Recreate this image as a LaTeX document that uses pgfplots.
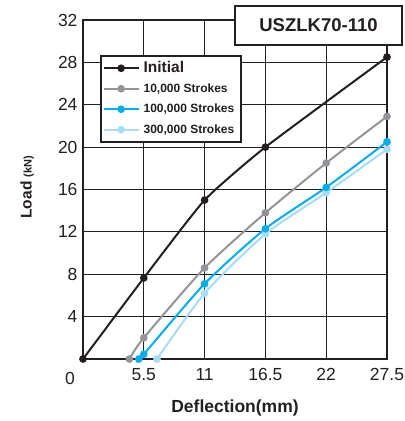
\documentclass[border=0pt]{standalone}
\usepackage{pgfplots}
\pgfplotsset{compat=1.18}
\usepackage{fontspec}
\setmainfont{Liberation Sans}
\definecolor{cblack}{HTML}{231F20}
\definecolor{cgray}{HTML}{929497}
\definecolor{cblue}{HTML}{00AEEF}
\definecolor{clight}{HTML}{A8DCF6}
\begin{document}
\begin{tikzpicture}[x=1bp,y=1bp]
\path[use as bounding box] (-83,-62) rectangle (322,359);
\begin{axis}[
  at={(0,0)}, anchor=south west,
  width=304bp, height=339bp, scale only axis,
  xmin=0, xmax=27.5, ymin=0, ymax=32,
  xtick={5.5,11,16.5,22,27.5},
  ytick={4,8,12,16,20,24,28,32},
  /pgf/number format/assume math mode=true,
  ticklabel style={font=\fontsize{17.5bp}{20bp}\selectfont, text=cblack},
  xticklabel style={yshift=-6bp},
  yticklabel style={xshift=-2bp},
  grid=major,
  grid style={cblack, line width=1.2bp},
  axis line style={cblack, line width=2.8bp},
  tick style={draw=none},
  clip=false,
  xlabel={\textbf{Deflection(mm)}},
  xlabel style={font=\fontsize{17.5bp}{20bp}\selectfont, text=cblack, at={(axis description cs:0.5,-0.1445)}, anchor=center},
  ylabel={\textbf{Load} {\fontsize{11bp}{12bp}\selectfont\textbf{(kN)}}},
  ylabel style={font=\fontsize{15.5bp}{18bp}\selectfont, text=cblack, at={(axis description cs:-0.184,0.507)}, anchor=center},
  legend reversed,
  legend cell align=left,
  legend style={at={(rel axis cs:0.056,0.897)}, anchor=north west, draw=cblack, line width=2.2bp, fill=white,
     font=\fontsize{12bp}{13bp}\selectfont\bfseries, text=cblack, row sep=4bp, inner xsep=2bp, inner ysep=4bp,
     nodes={text height=10bp, text depth=2.5bp, inner xsep=4.5bp}},
  legend image code/.code={\draw[mark repeat=2,mark phase=2,#1] plot coordinates {(0bp,0bp) (17bp,0bp) (34bp,0bp)};},
]
\addplot[clight, line width=2bp, smooth, tension=0.4, mark=*, mark size=2.8bp, mark options={fill=clight, draw=clight}]
  coordinates {(6.7,0) (11,6.2) (16.5,11.8) (22,15.7) (27.5,19.8)};
\addlegendentry{300,000 Strokes}
\addplot[cblue, line width=2bp, smooth, tension=0.4, mark=*, mark size=2.8bp, mark options={fill=cblue, draw=cblue}]
  coordinates {(5.05,0) (5.5,0.45) (11,7.1) (16.5,12.3) (22,16.2) (27.5,20.5)};
\addlegendentry{100,000 Strokes}
\addplot[cgray, line width=2bp, smooth, tension=0.4, mark=*, mark size=2.8bp, mark options={fill=cgray, draw=cgray}]
  coordinates {(4.2,0) (5.5,2.0) (11,8.6) (16.5,13.8) (22,18.5) (27.5,22.9)};
\addlegendentry{10,000 Strokes}
\addplot[cblack, line width=2bp, smooth, tension=0.3, mark=*, mark size=2.8bp, mark options={fill=cblack, draw=cblack}]
  coordinates {(0,0) (5.5,7.65) (11,15.0) (16.5,20.0) (27.5,28.5)};
\addlegendentry{\fontsize{15.5bp}{16bp}\selectfont Initial}
\end{axis}
\node[draw=cblack, line width=2.5bp, fill=white, minimum width=167bp, minimum height=39bp, inner sep=0pt,
  font=\fontsize{18.5bp}{20bp}\selectfont\bfseries, text=cblack] at (235.5,333.5) {USZLK70-110};
\node[font=\fontsize{17.5bp}{20bp}\selectfont, text=cblack] at (-13,-19) {0};
\end{tikzpicture}
\end{document}
